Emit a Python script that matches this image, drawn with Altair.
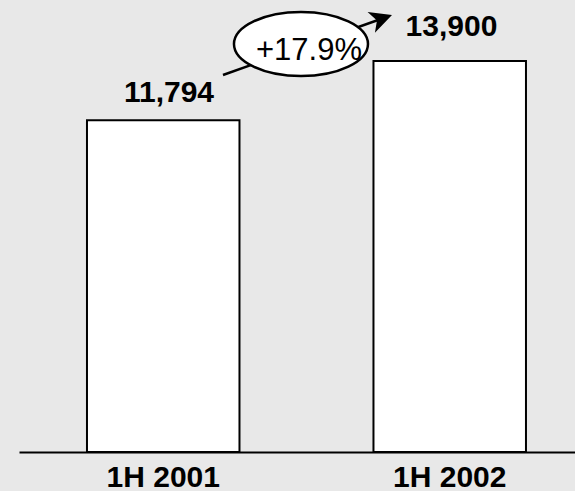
import altair as alt
import pandas as pd

# Half-year totals
periods = ["1H 2001", "1H 2002"]
totals = [11794, 13900]

growth = totals[1] / totals[0] - 1
growth_label = f"{growth:+.1%}"

FONT = "Liberation Sans"

bars_df = pd.DataFrame({
    "period": periods,
    "value": totals,
    "label": [f"{v:,}" for v in totals],
})

# One row tying the two periods together for the growth annotation
growth_df = pd.DataFrame({
    "start": [periods[0]],
    "end": [periods[1]],
    "v0": [totals[0]],
    "v1": [totals[1]],
    "text": [growth_label],
})

x_scale = alt.Scale(domain=periods, paddingInner=0.4677, paddingOuter=0.2042, align=0.581)
y_scale = alt.Scale(domain=[0, 16070], nice=False, zero=True)

x_axis = alt.Axis(
    title=None, labelAngle=0, ticks=False, tickSize=0, grid=False,
    domainColor="black", domainWidth=2,
    labelFont=FONT, labelFontSize=30, labelFontWeight="bold", labelColor="black",
    labelBaseline="alphabetic", labelPadding=34,
)


def xpos(field):
    return alt.X(f"{field}:N", scale=x_scale, sort=periods, axis=x_axis)


def ypos(field):
    return alt.Y(f"{field}:Q", scale=y_scale, axis=None)


bars = alt.Chart(bars_df).mark_bar(fill="white", stroke="black", strokeWidth=2).encode(
    x=xpos("period"),
    y=ypos("value"),
)


def value_label(period, dx, dy):
    return alt.Chart(bars_df).transform_filter(
        alt.datum.period == period
    ).mark_text(
        font=FONT, fontSize=30, fontWeight="bold", color="black",
        align="center", baseline="alphabetic", dx=dx, dy=dy,
    ).encode(
        x=xpos("period"),
        y=ypos("value"),
        text="label:N",
    )


label_a = value_label(periods[0], 5.75, -18.3)
label_b = value_label(periods[1], 1.75, -25)

arrow_line = alt.Chart(growth_df).mark_rule(
    color="black", strokeWidth=2.5,
    xOffset=59.75, yOffset=-45.3, x2Offset=-61.75, y2Offset=-44.5,
).encode(
    x=xpos("start"), x2="end:N", y=ypos("v0"), y2="v1:Q",
)

# Ellipse drawn as a custom symbol (unit box, cubic Bezier quarters)
ELLIPSE = ("M -1 0 C -1 -0.264 -0.552 -0.478 0 -0.478 "
           "C 0.552 -0.478 1 -0.264 1 0 "
           "C 1 0.264 0.552 0.478 0 0.478 "
           "C -0.552 0.478 -1 0.264 -1 0 Z")

bubble = alt.Chart(growth_df).mark_point(
    shape=ELLIPSE, size=134 * 134, filled=False, fill="white", fillOpacity=1,
    stroke="black", strokeWidth=2.5, opacity=1,
    xOffset=137.75, yOffset=-76.3,
).encode(x=xpos("start"), y=ypos("v0"))

growth_text = alt.Chart(growth_df).mark_text(
    font=FONT, fontSize=31, color="black", align="center", baseline="alphabetic",
    dx=145.75, dy=-60.3,
).encode(x=xpos("start"), y=ypos("v0"), text="text:N")

ARROWHEAD = "M 1 0 L -1 -1 L -0.45 0 L -1 1 Z"

arrow_head = alt.Chart(growth_df).mark_point(
    shape=ARROWHEAD, size=484, angle=340.5, filled=True, fill="black",
    strokeWidth=0, opacity=1, xOffset=-68.1, yOffset=-42.3,
).encode(
    x=xpos("end"),
    y=ypos("v1"),
)

chart = alt.layer(
    bars, label_a, label_b, arrow_line, bubble, growth_text, arrow_head,
).properties(
    width=556, height=452,
    autosize=alt.AutoSizeParams(type="none"),
    padding={"left": 19, "top": 0, "right": 0, "bottom": 39},
    background="#e8e8e8",
).configure_view(stroke=None)

chart.save("out.html", embed_options={"renderer": "svg", "actions": False})
